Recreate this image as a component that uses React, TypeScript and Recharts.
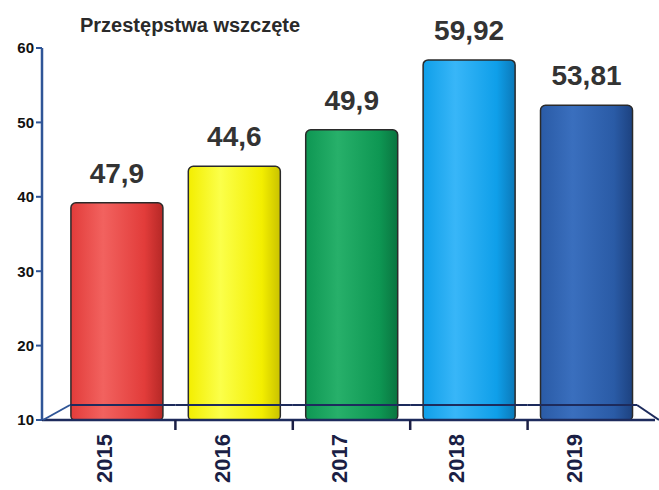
import { BarChart, Bar, XAxis, YAxis, Cell, LabelList } from "recharts";

const years = ["2015", "2016", "2017", "2018", "2019"];
// bar heights as drawn in the picture (they don't match the printed labels)
const barHeights = [39.2, 44.1, 49.0, 58.4, 52.3];
const valueLabels = ["47,9", "44,6", "49,9", "59,92", "53,81"];
const yTicks = [10, 20, 30, 40, 50, 60];

const colors = [
  ["#f2625f", "#e23c3a", "#b52826"],
  ["#fbff4a", "#f3ee00", "#c9c200"],
  ["#27b06a", "#0e9753", "#0a7440"],
  ["#38b6f8", "#0f9fe9", "#0b78b8"],
  ["#3a6fbe", "#2a5ba6", "#1d4280"],
];

const data = years.map((year, i) => ({ year, value: barHeights[i], label: valueLabels[i] }));

const W = 659;
const H = 490;
const font = "'Liberation Sans', Arial, sans-serif";
const step = (W - 42 - 4 - 16 - 10) / years.length;

const XTick = (props: any) => {
  const { x, y, payload, index } = props;
  const last = index === years.length - 1;
  const axisY = y - 8;
  const floorY = axisY - 15;
  return (
    <g>
      {/* back edge of the pseudo-3D floor, hidden behind the bars */}
      <line x1={index === 0 ? 70 : x - step / 2} x2={last ? x + step / 2 - 8 : x + step / 2} y1={floorY} y2={floorY} stroke="#1d2b5c" strokeWidth={2} />
      {index === 0 && <line x1={43} y1={axisY} x2={70} y2={floorY} stroke="#2f5597" strokeWidth={2} />}
      {last && <line x1={x + step / 2 - 8} y1={floorY} x2={x + step / 2 + 14} y2={axisY} stroke="#1d2b5c" strokeWidth={2} />}
      <text
        transform={`translate(${x - 12},${y + 6}) rotate(-90)`}
        textAnchor="end"
        dominantBaseline="central"
        fontFamily={font}
        fontWeight="bold"
        fontSize={22}
        fill="#1b1f45"
      >
        {payload.value}
      </text>
      {!last && (
        <line x1={x + step / 2} x2={x + step / 2} y1={axisY} y2={axisY + 10} stroke="#1b1f45" strokeWidth={2.5} />
      )}
    </g>
  );
};

export default function App() {
  return (
    <div style={{ position: "relative", width: W, height: H, background: "#fff" }}>
      <style>{"body{margin:0}"}</style>
      <div
        style={{
          position: "absolute",
          left: 80,
          top: 14,
          fontFamily: font,
          fontWeight: "bold",
          fontSize: 20,
          color: "#2a2a2a",
        }}
      >
        Przestępstwa wszczęte
      </div>
      <BarChart width={W} height={H} data={data} margin={{ top: 48, right: 4, left: 0, bottom: 0 }} barCategoryGap="11%">
        <defs>
          {colors.map((c, i) => (
            <linearGradient key={i} id={`g${i}`} x1="0" y1="0" x2="1" y2="0">
              <stop offset="0%" stopColor={c[1]} />
              <stop offset="35%" stopColor={c[0]} />
              <stop offset="80%" stopColor={c[1]} />
              <stop offset="100%" stopColor={c[2]} />
            </linearGradient>
          ))}
        </defs>
        <XAxis
          dataKey="year"
          height={70}
          interval={0}
          padding={{ left: 16, right: 10 }}
          axisLine={{ stroke: "#1d2b5c", strokeWidth: 2.5 }}
          tickLine={false}
          tick={<XTick />}
        />
        <YAxis
          width={42}
          domain={[10, 60]}
          ticks={yTicks}
          interval={0}
          axisLine={{ stroke: "#2f5597", strokeWidth: 2.5 }}
          tickLine={{ stroke: "#2f5597", strokeWidth: 2 }}
          tickSize={6}
          tickMargin={2}
          tick={{ fontFamily: font, fontWeight: "bold", fontSize: 15, fill: "#111" }}
        />
        <Bar dataKey="value" isAnimationActive={false} stroke="#2a2a2a" strokeWidth={1.5} radius={[5, 5, 4, 4]}>
          {data.map((_, i) => (
            <Cell key={i} fill={`url(#g${i})`} />
          ))}
          <LabelList
            dataKey="label"
            position="top"
            offset={20}
            fontFamily={font}
            fontWeight="bold"
            fontSize={28}
            fill="#333"
          />
        </Bar>
      </BarChart>
    </div>
  );
}
